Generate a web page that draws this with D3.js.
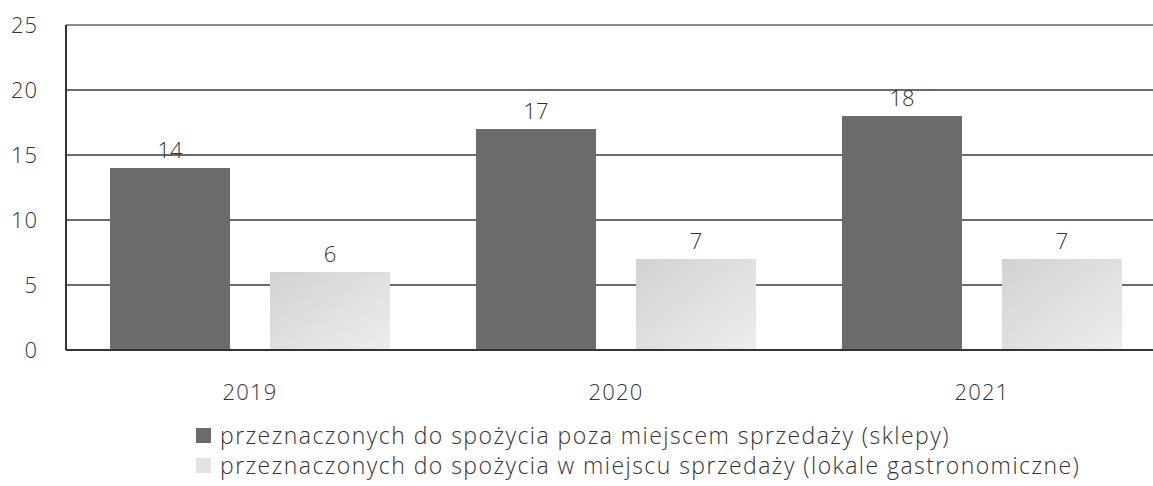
<!DOCTYPE html>
<html>
<head>
<meta charset="utf-8">
<script src="https://cdn.jsdelivr.net/npm/d3@7"></script>
<style>
  html, body { margin: 0; padding: 0; background: #fff; }
  #svgContainer { width: 1153px; height: 486px; }
  text { font-family: "Open Sans", "Noto Sans", sans-serif; fill: #333; }
</style>
</head>
<body>
<div id="svgContainer"></div>
<script>
const years = ["2019", "2020", "2021"];
const seriesNames = [
  "przeznaczonych do spożycia poza miejscem sprzedaży (sklepy)",
  "przeznaczonych do spożycia w miejscu sprzedaży (lokale gastronomiczne)",
];
const shopValues = [14, 17, 18];
const gastroValues = [6, 7, 7];
const yTicks = [0, 5, 10, 15, 20, 25];

const width = 1153;
const height = 486;

const svg = d3
  .select("#svgContainer")
  .append("svg")
  .attr("width", width)
  .attr("height", height)
  .attr("viewBox", `0 0 ${width} ${height}`);

// light bars have a soft speckled gradient in the scan
const defs = svg.append("defs");
const grad = defs
  .append("linearGradient")
  .attr("id", "lightFill")
  .attr("x1", "0")
  .attr("y1", "0")
  .attr("x2", "1")
  .attr("y2", "1");
grad.append("stop").attr("offset", "0%").attr("stop-color", "#d2d2d2");
grad.append("stop").attr("offset", "100%").attr("stop-color", "#ededed");

const colors = ["#6b6b6b", "url(#lightFill)"];
const legendColors = ["#6b6b6b", "#e2e2e2"];

const axisX = 66;
const x = d3.scaleBand().domain(years).range([67, 1165]);
const xInner = d3
  .scaleBand()
  .domain([0, 1])
  .range([43, 323])
  .paddingInner(0.25);
const y = d3.scaleLinear().domain([0, 25]).range([350, 25]);

// gridlines
svg
  .append("g")
  .selectAll("line")
  .data(yTicks.filter((d) => d > 0))
  .enter()
  .append("line")
  .attr("x1", axisX)
  .attr("x2", width)
  .attr("y1", (d) => y(d))
  .attr("y2", (d) => y(d))
  .attr("stroke", (d) => (d === 25 ? "#666" : "#3a3a3a"))
  .attr("stroke-width", 1.6);

// y tick labels
svg
  .append("g")
  .selectAll("text")
  .data(yTicks)
  .enter()
  .append("text")
  .attr("x", 38)
  .attr("y", (d) => y(d))
  .attr("dy", "0.35em")
  .attr("text-anchor", "end")
  .attr("font-size", 22)
  .attr("font-weight", 300)
  .attr("letter-spacing", 1)
  .text((d) => d);

// bars
const rows = years.map((yr, i) => ({ year: yr, values: [shopValues[i], gastroValues[i]] }));

const groups = svg
  .append("g")
  .selectAll("g")
  .data(rows)
  .enter()
  .append("g")
  .attr("transform", (d) => `translate(${x(d.year)},0)`);

groups
  .selectAll("rect")
  .data((d) => d.values.map((v, s) => ({ v, s })))
  .enter()
  .append("rect")
  .attr("x", (d) => xInner(d.s))
  .attr("y", (d) => y(d.v))
  .attr("width", xInner.bandwidth())
  .attr("height", (d) => y(0) - y(d.v))
  .attr("fill", (d) => colors[d.s]);

groups
  .selectAll(".val")
  .data((d) => d.values.map((v, s) => ({ v, s })))
  .enter()
  .append("text")
  .attr("class", "val")
  .attr("x", (d) => xInner(d.s) + xInner.bandwidth() / 2)
  .attr("y", (d) => y(d.v) - 10)
  .attr("text-anchor", "middle")
  .attr("font-size", 22)
  .attr("font-weight", 300)
  .text((d) => d.v);

// axes lines
svg
  .append("line")
  .attr("x1", axisX)
  .attr("x2", axisX)
  .attr("y1", y(25))
  .attr("y2", y(0))
  .attr("stroke", "#333")
  .attr("stroke-width", 2);
svg
  .append("line")
  .attr("x1", axisX)
  .attr("x2", width)
  .attr("y1", y(0))
  .attr("y2", y(0))
  .attr("stroke", "#333")
  .attr("stroke-width", 2);

// year labels
svg
  .append("g")
  .selectAll("text")
  .data(years)
  .enter()
  .append("text")
  .attr("x", (d) => x(d) + x.bandwidth() / 2)
  .attr("y", 400)
  .attr("text-anchor", "middle")
  .attr("font-size", 22)
  .attr("font-weight", 300)
  .attr("letter-spacing", 1.2)
  .text((d) => d);

// legend
const legend = svg
  .append("g")
  .selectAll("g")
  .data(seriesNames)
  .enter()
  .append("g")
  .attr("transform", (d, i) => `translate(196, ${436 + i * 30})`);

legend
  .append("rect")
  .attr("x", 0)
  .attr("y", -8)
  .attr("width", 15)
  .attr("height", 15)
  .attr("fill", (d, i) => legendColors[i]);

legend
  .append("text")
  .attr("x", 24)
  .attr("y", 0)
  .attr("dy", "0.35em")
  .attr("font-size", 23)
  .attr("font-weight", 300)
  .attr("letter-spacing", 1.45)
  .text((d) => d);
</script>
</body>
</html>
